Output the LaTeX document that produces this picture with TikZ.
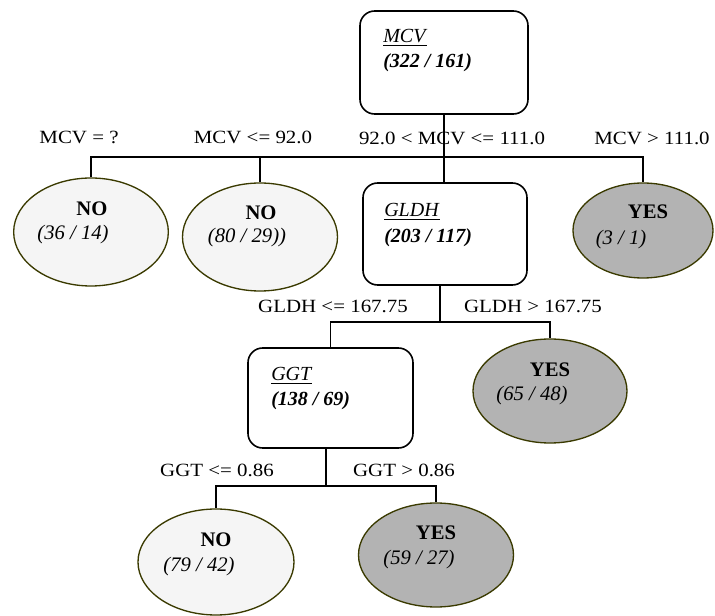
\documentclass[tikz,border=0pt]{standalone}
\usepackage{fontspec}
\setmainfont{Liberation Serif}
\newfontfamily\labfont[FakeStretch=1.12]{Liberation Serif}
\usetikzlibrary{shapes.geometric}
\definecolor{edgeol}{HTML}{3A3A00}
\definecolor{leaflight}{HTML}{F5F5F5}
\definecolor{leafdark}{HTML}{B3B3B3}
\tikzset{
  splitbox/.style={draw=black, line width=1.2pt, rounded corners=11pt, inner sep=0pt, fill=white},
  noleaf/.style={ellipse, draw=edgeol, line width=1pt, fill=leaflight, inner sep=0pt},
  yesleaf/.style={ellipse, draw=edgeol, line width=1pt, fill=leafdark, inner sep=0pt},
  conn/.style={draw=black, line width=1.2pt},
  cond/.style={font=\labfont\fontsize{14pt}{16pt}\selectfont, anchor=base, inner sep=0pt},
  ntext/.style={font=\fontsize{15.5pt}{18pt}\selectfont, anchor=base, inner sep=0pt},
  btext/.style={font=\fontsize{15pt}{18pt}\selectfont, anchor=base west, inner sep=0pt},
}
\begin{document}
\begin{tikzpicture}[x=0.75pt, y=-0.75pt]
\useasboundingbox (0,0) rectangle (715,616);
% split boxes
\node[splitbox, minimum width=126pt, minimum height=77.25pt] (mcv) at (444,62.5) {};
\node[splitbox, minimum width=123pt, minimum height=76.5pt] (gldh) at (445,234) {};
\node[splitbox, minimum width=123.75pt, minimum height=75pt] (ggt) at (330.5,398) {};
% leaves
\node[noleaf, minimum width=116pt, minimum height=81pt] (n1) at (91,232) {};
\node[noleaf, minimum width=116.25pt, minimum height=81pt] (n2) at (260,237) {};
\node[yesleaf, minimum width=105pt, minimum height=71.25pt] (y1) at (643,230.5) {};
\node[yesleaf, minimum width=115.5pt, minimum height=78pt] (y2) at (550,391) {};
\node[noleaf, minimum width=117pt, minimum height=79.5pt] (n3) at (216,562) {};
\node[yesleaf, minimum width=116.25pt, minimum height=78pt] (y3) at (436,555) {};
% junctions
\coordinate (j1) at (444,157);
\coordinate (j2) at (440,322);
\coordinate (j3) at (326,486);
% connectors level 1
\draw[conn] (n1.north) |- (j1);
\draw[conn] (n2.north) |- (j1);
\draw[conn] (j1) -| (y1.north);
\draw[conn] (j1) -- (j1 |- gldh.north);
% level 2
\draw[conn] (gldh.south -| j2) -- (j2);
\draw[conn] (j2) -| (ggt.north);
\draw[conn] (j2) -| (y2.north);
% level 3
\draw[conn] (ggt.south -| j3) -- (j3);
\draw[conn] (j3) -| (n3.north);
\draw[conn] (j3) -| (y3.north);
% box texts
\node[btext] (mcvname) at (383,43) {\underline{\textit{MCV}}};
\node[btext] (mcvnum) at (383,68) {\textbf{\textit{(322 / 161)}}};
\node[btext] (gldhname) at (384,217) {\underline{\textit{GLDH}}};
\node[btext] (gldhnum) at (384,243) {\textbf{\textit{(203 / 117)}}};
\node[btext] (ggtname) at (271,381) {\underline{\textit{GGT}}};
\node[btext] (ggtnum) at (271,406) {\textbf{\textit{(138 / 69)}}};
% leaf texts
\node[ntext] (n1a) at (92,216) {\textbf{NO}};
\node[ntext] (n1b) at (73,240) {\textit{(36 / 14)}};
\node[ntext] (n2a) at (261,220) {\textbf{NO}};
\node[ntext] (n2b) at (247,243) {\textit{(80 / 29))}};
\node[ntext] (y1a) at (648,219) {\textbf{YES}};
\node[ntext] (y1b) at (621,245) {\textit{(3 / 1)}};
\node[ntext] (y2a) at (550,377) {\textbf{YES}};
\node[ntext] (y2b) at (532,401) {\textit{(65 / 48)}};
\node[ntext] (n3a) at (216,547) {\textbf{NO}};
\node[ntext] (n3b) at (199,572) {\textit{(79 / 42)}};
\node[ntext] (y3a) at (436,540) {\textbf{YES}};
\node[ntext] (y3b) at (419,565) {\textit{(59 / 27)}};
% condition labels
\node[cond] (c1) at (79,144) {MCV = ?};
\node[cond] (c2) at (253,144) {MCV <= 92.0};
\node[cond] (c3) at (452,145) {92.0 < MCV <= 111.0};
\node[cond] (c4) at (652,145) {MCV > 111.0};
\node[cond] (c5) at (333,313) {GLDH <= 167.75};
\node[cond] (c6) at (533,313) {GLDH > 167.75};
\node[cond] (c7) at (217,477) {GGT <= 0.86};
\node[cond] (c8) at (404,477) {GGT > 0.86};
% trunk drawn over the label, as in the reference
\draw[conn] (mcv.south) -- (j1);
\end{tikzpicture}
\end{document}
